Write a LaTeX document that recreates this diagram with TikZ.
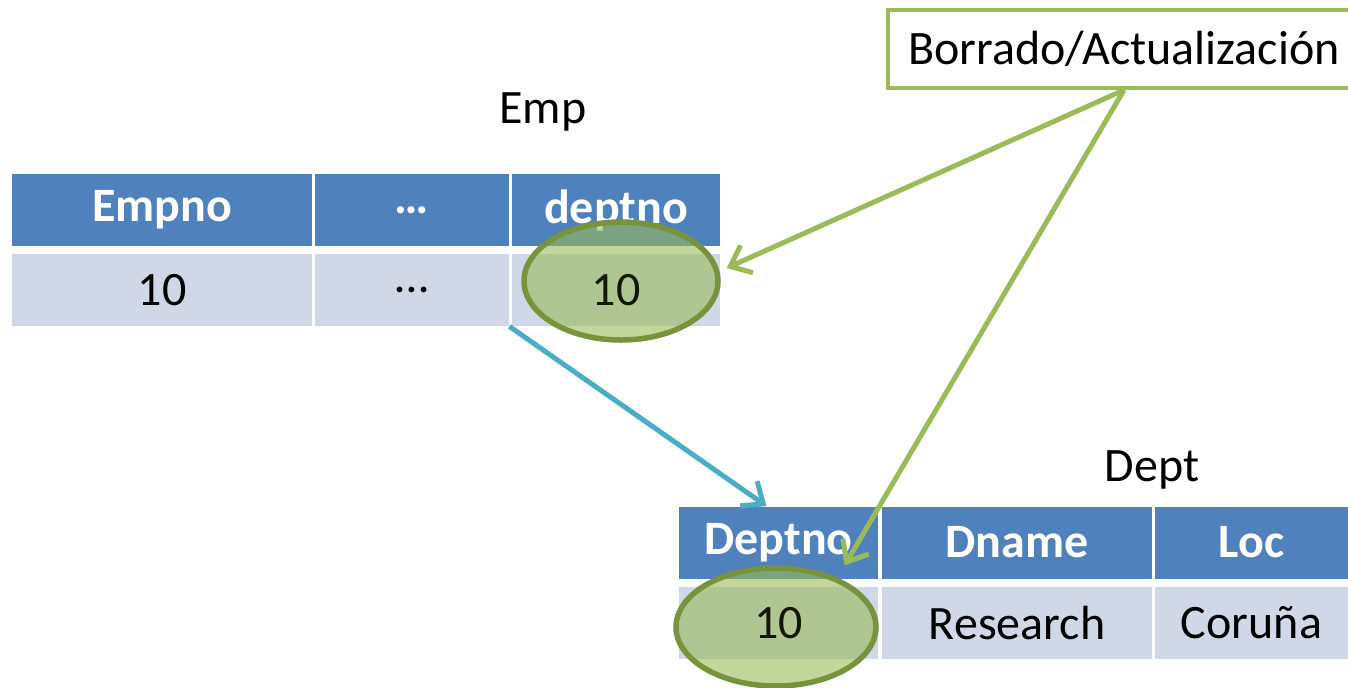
\documentclass[tikz,border=0pt]{standalone}
\usepackage{fontspec}
\setmainfont{Carlito}
\usetikzlibrary{arrows.meta,shapes.geometric}
\definecolor{hdrblue}{HTML}{4F81BD}
\definecolor{rowblue}{HTML}{D0D8E8}
\definecolor{oliva}{HTML}{9BBB59}
\definecolor{olivadark}{HTML}{77933C}
\definecolor{cian}{HTML}{4BACC6}

\begin{document}
\begin{tikzpicture}[x=0.5pt, y=-0.5pt, >={Straight Barb[length=9pt,width=15pt]},
    font=\fontsize{24}{28}\selectfont,
    hdr/.style={fill=hdrblue, text=white, font=\fontsize{24}{28}\selectfont\bfseries, minimum height=36pt, inner sep=0pt},
    cell/.style={fill=rowblue, minimum height=36pt, inner sep=0pt},
    marca/.style={ellipse, draw=olivadark, line width=2.75pt, fill=oliva, fill opacity=0.6, minimum width=97pt, minimum height=59pt, inner sep=0pt},
    flecha/.style={->, line width=2.5pt, oliva}]
  \useasboundingbox (0,0) rectangle (1348,687);
  \clip (0,0) rectangle (1348,687);

  % tabla Emp
  \node (titemp) at (543,112) {Emp};
  \node[hdr, minimum width=150pt] (empno) at (162,210) {Empno};
  \node[hdr, minimum width=97pt] (empdots) at (412,210) {…};
  \node[hdr, minimum width=104pt] (empdept) at (616,210) {deptno};
  \node[cell, minimum width=150pt] (empno10) at (162,290) {10};
  \node[cell, minimum width=97pt] (empdots10) at (412,290) {…};
  \node[cell, minimum width=104pt] (empdept10) at (616,290) {};

  % tabla Dept
  \node (titdept) at (1152,470) {Dept};
  \node[hdr, minimum width=99.5pt] (deptno) at (778.5,542.5) {Deptno};
  \node[hdr, minimum width=135pt] (dname) at (1017,542.5) {Dname};
  \node[hdr, minimum width=96.5pt] (loc) at (1251.5,542.5) {Loc};
  \node[cell, minimum width=99.5pt] (deptno10) at (778.5,623) {};
  \node[cell, minimum width=135pt] (research) at (1017,623) {Research};
  \node[cell, minimum width=96.5pt] (coruna) at (1251.5,623) {Coruña};

  \node[marca] (marca1) at (621,281) {};
  \node[marca, minimum width=100pt] (marca2) at (776,627) {};
  \node[text=black!85!olivadark] at (empdept10) {10};
  \node[text=black!85!olivadark] at (deptno10) {10};

  \node[draw=oliva, line width=2pt, fill=white, minimum width=236pt, minimum height=39pt] (accion) at (1124,49) {Borrado/Actualización};

  \draw[flecha] (accion.south) -- ([xshift=3pt,yshift=6.5pt]marca1.east);
  \draw[flecha] (accion.south) -- ([xshift=-2pt,yshift=9pt]marca2.north east);
  \draw[flecha, cian] (empdots10.south east) -- ([xshift=-6pt]deptno.north);
\end{tikzpicture}
\end{document}
